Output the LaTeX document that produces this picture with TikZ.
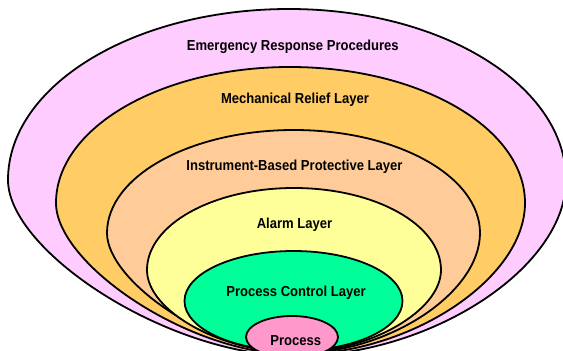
\documentclass[tikz,border=0pt]{standalone}
\usepackage{fontspec}
\setmainfont{Liberation Sans}[FakeStretch=0.9]
\definecolor{ercol}{HTML}{FFCCFF}
\definecolor{mrcol}{HTML}{FFCC66}
\definecolor{ibcol}{HTML}{FFCC99}
\definecolor{alcol}{HTML}{FFFF99}
\definecolor{pccol}{HTML}{00FF99}
\definecolor{prcol}{HTML}{FF99CC}
\begin{document}
\begin{tikzpicture}[x=1pt,y=-1pt,line width=1.8pt,line join=round,
  layer/.style={draw=black,fill=#1},
  lbl/.style={font=\fontsize{14.5pt}{16pt}\selectfont\bfseries,anchor=base,inner sep=0pt}]
\useasboundingbox (0,0) rectangle (563,351);
\fill[white] (0,0) rectangle (563,351);
\begin{scope}
\clip (0,0) rectangle (563,351);
% Emergency Response Procedures
\draw[layer=ercol] (8,180) .. controls (8,85.6) and (133.8,9) .. (289,9)
  .. controls (442,9) and (566,85.6) .. (566,180)
  .. controls (566,268) and (431,356) .. (296,356)
  .. controls (166.4,356) and (8,250.4) .. cycle;
% Mechanical Relief Layer
\draw[layer=mrcol] (56,203) .. controls (56,127.9) and (160.8,67) .. (290,67)
  .. controls (419.8,67) and (525,127.9) .. (525,203)
  .. controls (525,278.75) and (410.5,354.5) .. (296,354.5)
  .. controls (188,354.5) and (56,263.6) .. cycle;
% Instrument-Based Protective Layer
\draw[layer=ibcol] (107,233) .. controls (107,176.1) and (190.7,130) .. (294,130)
  .. controls (396.7,130) and (480,176.1) .. (480,233)
  .. controls (480,293.25) and (388,353.5) .. (296,353.5)
  .. controls (211,353.5) and (107,281.2) .. cycle;
% Alarm Layer
\draw[layer=alcol] (147,270) .. controls (147,224.7) and (212.8,188) .. (294,188)
  .. controls (375.2,188) and (441,224.7) .. (441,270)
  .. controls (441,311.25) and (368.5,352.5) .. (296,352.5)
  .. controls (221.5,352.5) and (147,311.25) .. cycle;
% Process Control Layer
\draw[layer=pccol] (293.5,301) ellipse[x radius=109pt,y radius=50pt];
% Process
\draw[layer=prcol] (292,337) ellipse[x radius=46pt,y radius=21pt];
\end{scope}
\node[lbl] (er) at (292.8,50.5) {Emergency Response Procedures};
\node[lbl] (mr) at (295,103) {Mechanical Relief Layer};
\node[lbl] (ib) at (294.5,170) {Instrument-Based Protective Layer};
\node[lbl] (al) at (294.5,228) {Alarm Layer};
\node[lbl] (pc) at (296,296.5) {Process Control Layer};
\node[lbl] (pr) at (295.7,345.5) {Process};
\end{tikzpicture}
\end{document}
